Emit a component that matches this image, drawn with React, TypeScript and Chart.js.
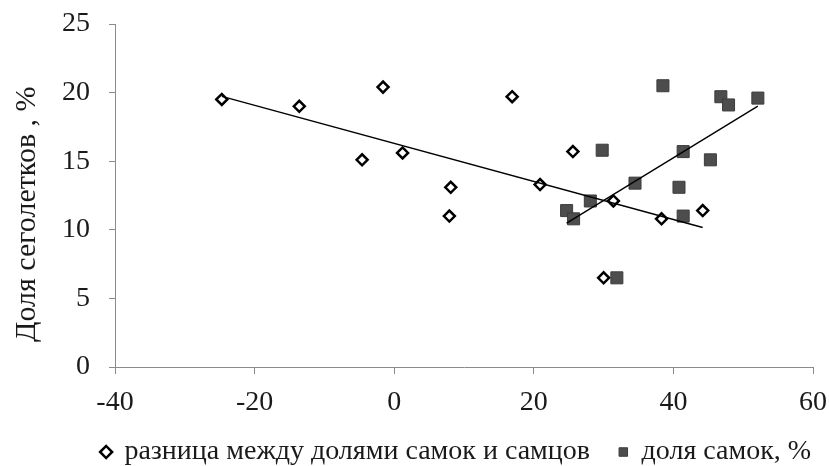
import React, { useEffect, useRef } from 'react';
import { Chart, registerables } from 'chart.js';

Chart.register(...registerables);

// Diamonds: difference between female and male shares (x) vs share of young-of-year (y)
const diffX = [-24.7, -13.6, -1.6, -4.6, 1.2, 8.1, 7.9, 16.9, 25.6, 20.9, 31.4, 38.3, 44.2, 30.0];
const diffY = [19.5, 19.0, 20.4, 15.1, 15.6, 13.1, 11.0, 19.7, 15.7, 13.3, 12.1, 10.8, 11.4, 6.5];
// Squares: share of females (x) vs share of young-of-year (y)
const femX = [38.5, 46.8, 47.9, 52.1, 29.8, 41.4, 45.3, 34.5, 40.8, 28.1, 24.7, 25.7, 41.4, 31.9];
const femY = [20.5, 19.7, 19.1, 19.6, 15.8, 15.7, 15.1, 13.4, 13.1, 12.1, 11.4, 10.8, 11.0, 6.5];

const xTicks = [-40, -20, 0, 20, 40, 60];
const yTicks = [0, 5, 10, 15, 20, 25];
const seriesNames = ['разница между долями самок и самцов', 'доля самок, %'];
const yTitle = 'Доля сеголетков , %';

const FONT = '"Liberation Serif", "Times New Roman", serif';
const FS = 28;
const TEXT = '#1a1a1a';
const AXIS = '#8a8a8a';

function trend(xs: number[], ys: number[]) {
  const n = xs.length;
  const mx = xs.reduce((a, b) => a + b, 0) / n;
  const my = ys.reduce((a, b) => a + b, 0) / n;
  let sxy = 0;
  let sxx = 0;
  for (let i = 0; i < n; i++) {
    sxy += (xs[i] - mx) * (ys[i] - my);
    sxx += (xs[i] - mx) * (xs[i] - mx);
  }
  const b = sxy / sxx;
  const a = my - b * mx;
  const x0 = Math.min(...xs);
  const x1 = Math.max(...xs);
  return [
    { x: x0, y: a + b * x0 },
    { x: x1, y: a + b * x1 },
  ];
}

const layoutTweak = {
  id: 'layoutTweak',
  afterLayout(chart: any) {
    const lg = chart.legend;
    if (lg) {
      const d = 50;
      lg.left += d;
      lg.right += d;
    }
    const xs = chart.scales.x;
    if (xs) xs.bottom = chart.height;
  },
};

export default function App() {
  const ref = useRef<HTMLCanvasElement | null>(null);

  useEffect(() => {
    if (!ref.current) return;
    const chart = new Chart(ref.current, {
      type: 'scatter',
      plugins: [layoutTweak],
      data: {
        datasets: [
          {
            label: seriesNames[0],
            data: diffX.map((x, i) => ({ x, y: diffY[i] })),
            pointStyle: 'rectRot',
            pointRadius: 5.5,
            pointBackgroundColor: '#ffffff',
            pointBorderColor: '#000000',
            pointBorderWidth: 2.5,
            showLine: false,
            order: 1,
          },
          {
            label: seriesNames[1],
            data: femX.map((x, i) => ({ x, y: femY[i] })),
            pointStyle: 'rect',
            pointRadius: 8.5,
            pointBackgroundColor: '#4d4d4d',
            pointBorderColor: '#3c3c3c',
            pointBorderWidth: 1,
            showLine: false,
            order: 2,
          },
          {
            label: 'trend1',
            data: trend(diffX, diffY),
            showLine: true,
            pointRadius: 0,
            borderColor: '#000000',
            borderWidth: 1.4,
            order: 0,
          },
          {
            label: 'trend2',
            data: trend(femX, femY),
            showLine: true,
            pointRadius: 0,
            borderColor: '#000000',
            borderWidth: 1.4,
            order: 0,
          },
        ],
      },
      options: {
        animation: false,
        responsive: false,
        layout: { padding: { top: 24, left: 0, right: 16, bottom: -10 } },
        plugins: {
          tooltip: { enabled: false },
          legend: {
            position: 'bottom',
            labels: {
              usePointStyle: true,
              boxWidth: 8.5,
              boxHeight: 8.5,
              padding: 29,
              color: TEXT,
              font: { family: FONT, size: FS },
              filter: (item: any) => item.datasetIndex < 2,
            },
          },
        },
        scales: {
          x: {
            type: 'linear',
            min: -40,
            max: 60,
            afterBuildTicks: (s: any) => {
              s.ticks = xTicks.map((v) => ({ value: v }));
            },
            afterFit: (s: any) => {
              s.height = 42;
              s.paddingLeft = 0;
              s.paddingRight = 0;
            },
            grid: { drawOnChartArea: false, drawTicks: true, tickLength: 7, color: AXIS },
            border: { display: true, color: AXIS, width: 1 },
            ticks: { color: TEXT, font: { family: FONT, size: FS }, padding: 12, maxRotation: 0 },
          },
          y: {
            type: 'linear',
            min: 0,
            max: 25,
            afterBuildTicks: (s: any) => {
              s.ticks = yTicks.map((v) => ({ value: v }));
            },
            afterFit: (s: any) => {
              s.width = 115;
              s.paddingTop = 0;
              s.paddingBottom = 0;
            },
            grid: { drawOnChartArea: false, drawTicks: true, tickLength: 6, color: AXIS },
            border: { display: true, color: AXIS, width: 1 },
            ticks: { color: TEXT, font: { family: FONT, size: FS }, padding: 19 },
            title: {
              display: true,
              text: yTitle + '     ',
              color: TEXT,
              font: { family: FONT, size: 30 },
              padding: { top: 9, bottom: 0 },
            },
          },
        },
      },
    });
    return () => chart.destroy();
  }, []);

  return (
    <div style={{ position: 'fixed', left: 0, top: 0, width: 829, height: 466, overflow: 'hidden', background: '#fff' }}>
      <canvas ref={ref} width={829} height={466} style={{ display: 'block' }} />
    </div>
  );
}
